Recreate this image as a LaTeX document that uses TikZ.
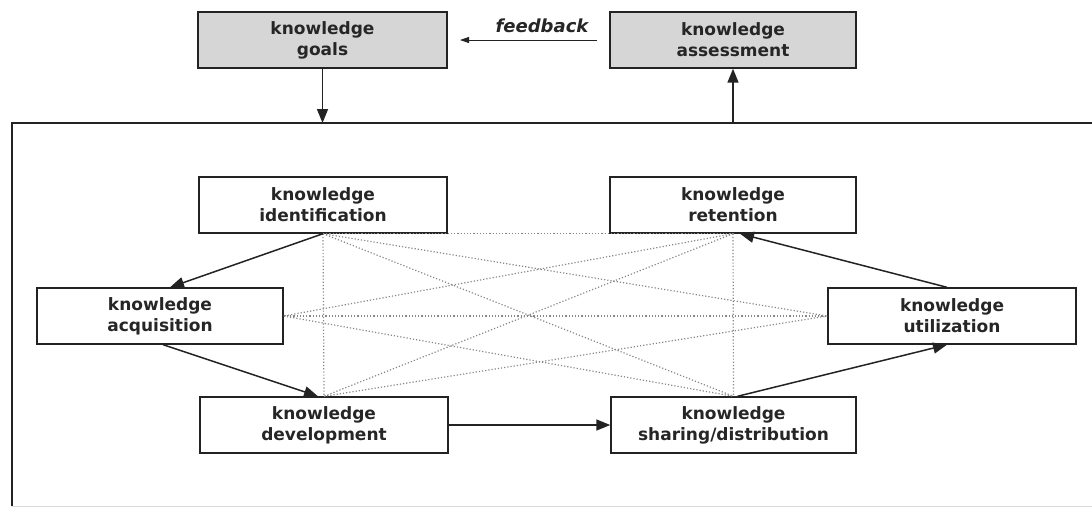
\documentclass[tikz,border=0pt]{standalone}
\usepackage{fontspec}
\setmainfont{DejaVu Sans}
\usetikzlibrary{arrows.meta}
\definecolor{boxgray}{RGB}{214,214,214}
\definecolor{dotgray}{RGB}{135,135,135}
\definecolor{linedark}{RGB}{35,35,35}
\tikzset{
  kbox/.style={draw=linedark, line width=1.4pt, rectangle, align=center, inner sep=0pt,
    minimum height=56pt, font=\fontsize{17}{21}\selectfont\bfseries, text=black!85},
  topbox/.style={kbox, fill=boxgray},
  flow/.style={draw=linedark, line width=1.5pt, -{Triangle[length=14pt,width=11pt]}},
  thinflow/.style={draw=linedark, line width=0.8pt, -{Triangle[length=9pt,width=6pt]}},
  link/.style={draw=dotgray, line width=1.2pt, dotted},
  frame/.style={draw=linedark, line width=1.5pt},
}
\begin{document}
\begin{tikzpicture}[x=1pt,y=-1pt]
\useasboundingbox (0,0) rectangle (1092,507);
% top boxes
\node[topbox, minimum width=249pt] (goals) at (322.5,40) {knowledge\\goals};
\node[topbox, minimum width=246pt] (assess) at (733,40) {knowledge\\assessment};
\node[font=\fontsize{18}{21}\selectfont\bfseries\itshape, text=black!85] (fb) at (542,26) {feedback};
\coordinate (fbstart) at (597,40);
\coordinate (fbend) at (460,40);
\draw[thinflow] (fbstart) -- (fbend);
% frame
\coordinate (fl) at (12,123);
\coordinate (fbl) at (12,506);
\coordinate (fr) at (1092,123);
\coordinate (fbr) at (1092,506);
\coordinate (fg) at (322.5,123);
\coordinate (fa) at (733,123);
\draw[frame] (fbl) -- (fl) -- (fr);
\draw[draw=black!15, line width=1pt] (fbl) -- (fbr);
\draw[flow] (goals.south) -- (fg);
\draw[flow] (fa) -- (assess.south);
% inner boxes
\node[kbox, minimum width=248pt, fill=white] (id) at (323,205) {knowledge\\identification};
\node[kbox, minimum width=246pt, fill=white] (ret) at (733,205) {knowledge\\retention};
\node[kbox, minimum width=246pt, fill=white] (acq) at (160,316) {knowledge\\acquisition};
\node[kbox, minimum width=248pt, fill=white] (util) at (952,316) {knowledge\\utilization};
\node[kbox, minimum width=248pt, fill=white] (dev) at (324,425) {knowledge\\development};
\node[kbox, minimum width=245pt, fill=white] (shar) at (733.5,425) {knowledge\\sharing/distribution};
% dotted links
\draw[link] (id.south) -- (ret.south);
\draw[link] (id.south) -- (dev.north);
\draw[link] (id.south) -- (util.west);
\draw[link] (id.south) -- (shar.north);
\draw[link] (ret.south) -- (shar.north);
\draw[link] (ret.south) -- (acq.east);
\draw[link] (ret.south) -- (dev.north);
\draw[link] (acq.east) -- (util.west);
\draw[link] (acq.east) -- (shar.north);
\draw[link] (dev.north) -- (util.west);
% flow arrows
\draw[flow] (id.south) -- ([xshift=10pt]acq.north);
\draw[flow] ([xshift=3pt]acq.south) -- ([xshift=-6pt]dev.north);
\draw[flow] (dev.east) -- (shar.west);
\draw[flow] ([xshift=4pt]shar.north) -- ([xshift=-5pt]util.south);
\draw[flow] ([xshift=-5pt]util.north) -- ([xshift=7pt]ret.south);
\end{tikzpicture}
\end{document}
